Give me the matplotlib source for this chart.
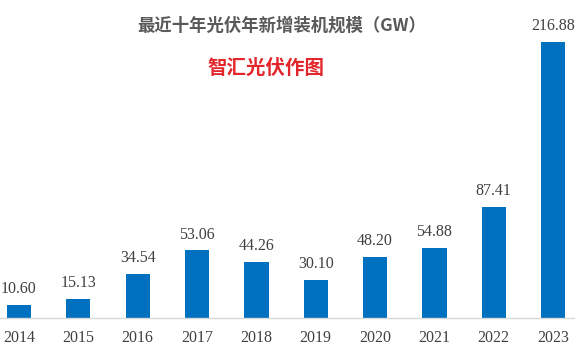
import matplotlib.pyplot as plt

years = ['2014', '2015', '2016', '2017', '2018', '2019', '2020', '2021', '2022', '2023']
added_gw = [10.60, 15.13, 34.54, 53.06, 44.26, 30.10, 48.20, 54.88, 87.41, 216.88]

title = '最近十年光伏年新增装机规模（GW）'
subtitle = '智汇光伏作图'

fig = plt.figure(figsize=(5.75, 3.55), dpi=100)
ax = fig.add_axes([0, 37 / 355, 1, 318 / 355])

x = list(range(len(years)))
ax.bar(x, added_gw, width=0.41, color='#0070C0', zorder=2)

for xi, v in zip(x, added_gw):
    ax.annotate('%.2f' % v, (xi, v), xytext=(0, 5.5), textcoords='offset points',
                ha='center', va='bottom', fontsize=11.5, color='#404040',
                family='Liberation Serif')

ax.set_xlim(-0.32, 9.37)
ax.set_ylim(0, 249.8)
ax.set_xticks(x)
ax.set_xticklabels(years, family='Liberation Serif', fontsize=11.5, color='#404040')
ax.tick_params(axis='x', length=0, pad=9)
ax.set_yticks([])
for s in ['top', 'right', 'left']:
    ax.spines[s].set_visible(False)
ax.spines['bottom'].set_color('#D9D9D9')
ax.spines['bottom'].set_linewidth(1)

fig.text(282 / 575, 1 - 26 / 355, title, ha='center', va='center', fontsize=12.5,
         fontweight='bold', color='#595959', family=['Noto Sans CJK SC', 'DejaVu Sans'])
fig.text(266 / 575, 1 - 68 / 355, subtitle, ha='center', va='center', fontsize=14,
         fontweight='bold', color='#E3262B', family=['Noto Sans CJK SC', 'DejaVu Sans'])

fig.savefig('out.png', dpi=100)
